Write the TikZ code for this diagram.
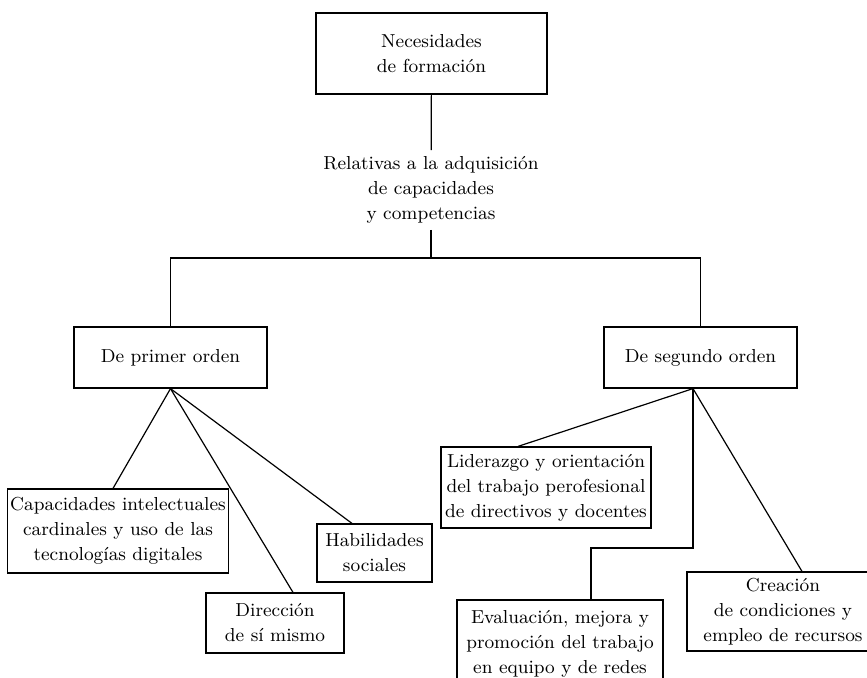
\documentclass[tikz,border=0pt]{standalone}
\usepackage{tikz}
\usetikzlibrary{calc}

\begin{document}
\begin{tikzpicture}[x=0.5pt,y=-0.5pt,
        caja/.style={draw,line width=0.6pt,align=center,inner sep=1.5pt,font=\fontsize{9.4}{12.5}\selectfont},
        texto/.style={align=center,inner sep=3pt,font=\fontsize{9.4}{12.5}\selectfont},
        linea/.style={line width=0.6pt}]
        \clip (0,0) rectangle (867,677);
        \node[caja,minimum width=115.5pt,minimum height=40.5pt] (nec) at (431.5,53.5) {Necesidades\\de formación};
        \node[texto] (rel) at (431,190) {Relativas a la adquisición\\de capacidades\\y competencias};
        \coordinate (cruce) at (431,258);
        \node[caja,minimum width=96.5pt,minimum height=30.5pt] (prim) at (170.5,357.5) {De primer orden};
        \node[caja,minimum width=96.5pt,minimum height=30.5pt] (seg) at (700.5,357.5) {De segundo orden};
        \node[caja,minimum width=110pt,minimum height=42pt] (cap) at (118,531) {Capacidades intelectuales\\cardinales y uso de las\\tecnologías digitales};
        \node[caja,minimum width=69pt,minimum height=30pt] (dir) at (275,623) {Dirección\\de sí mismo};
        \node[caja,minimum width=57.5pt,minimum height=29pt] (hab) at (374.5,553) {Habilidades\\sociales};
        \node[caja,minimum width=105pt,minimum height=40.5pt] (lid) at (546,487.5) {Liderazgo y orientación\\del trabajo perofesional\\de directivos y docentes};
        \node[caja,minimum width=103pt,minimum height=44pt] (eva) at (560,644) {Evaluación, mejora y\\promoción del trabajo\\en equipo y de redes};
        \node[caja,minimum width=96pt,minimum height=39.5pt] (cre) at (783,611.5) {Creación\\de condiciones y\\empleo de recursos};
        \draw[linea] (nec) -- (rel);
        \draw[linea] (rel) -- (cruce);
        \draw[linea] (prim) |- (cruce) -| (seg);
        \draw[linea] (prim.south) -- ([xshift=-2.5pt]cap.north);
        \draw[linea] (prim.south) -- ([xshift=9pt]dir.north);
        \draw[linea] (prim.south) -- ([xshift=-11.25pt]hab.north);
        \coordinate (sv) at ([xshift=-3.75pt]seg.south);
        \coordinate (codo) at (591,548);
        \draw[linea] (sv) -- ([xshift=-14pt]lid.north);
        \draw[linea] (sv) -- ([xshift=9.5pt]cre.north);
        \draw[linea] (sv) |- (codo) -- (codo |- eva.north);
    \end{tikzpicture}
\end{document}
